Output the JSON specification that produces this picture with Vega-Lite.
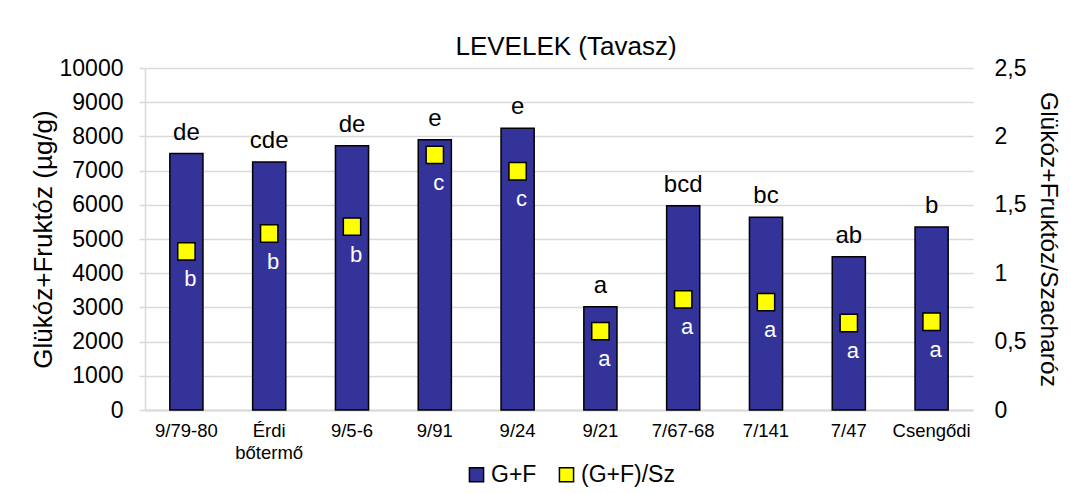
{
  "$schema": "https://vega.github.io/schema/vega-lite/v6.json",
  "autosize": {"type": "none"},
  "width": 828,
  "height": 342,
  "padding": {"left": 145, "top": 68, "right": 97, "bottom": 84},
  "background": "white",
  "title": {
    "text": "LEVELEK (Tavasz)",
    "font": "Liberation Sans",
    "fontSize": 26,
    "fontWeight": "normal",
    "color": "black",
    "anchor": "middle",
    "offset": -3,
    "dx": 7
  },
  "config": {
    "font": "Liberation Sans",
    "view": {"stroke": null}
  },
  "data": {
    "values": [
      {"cat": "9/79-80", "gf": 7500, "ratio": 1.16, "l1": "de", "l2": "b"},
      {"cat": "Érdi bőtermő", "gf": 7250, "ratio": 1.29, "l1": "cde", "l2": "b"},
      {"cat": "9/5-6", "gf": 7730, "ratio": 1.34, "l1": "de", "l2": "b"},
      {"cat": "9/91", "gf": 7900, "ratio": 1.865, "l1": "e", "l2": "c"},
      {"cat": "9/24", "gf": 8235, "ratio": 1.745, "l1": "e", "l2": "c"},
      {"cat": "9/21", "gf": 3020, "ratio": 0.576, "l1": "a", "l2": "a"},
      {"cat": "7/67-68", "gf": 5975, "ratio": 0.809, "l1": "bcd", "l2": "a"},
      {"cat": "7/141", "gf": 5635, "ratio": 0.788, "l1": "bc", "l2": "a"},
      {"cat": "7/47", "gf": 4483, "ratio": 0.636, "l1": "ab", "l2": "a"},
      {"cat": "Csengődi", "gf": 5350, "ratio": 0.645, "l1": "b", "l2": "a"}
    ]
  },
  "encoding": {
    "x": {
      "field": "cat",
      "type": "nominal",
      "sort": null,
      "scale": {"paddingInner": 0.6, "paddingOuter": 0.3},
      "axis": {
        "title": null,
        "labelAngle": 0,
        "labelFontSize": 18.5,
        "labelColor": "black",
        "labelPadding": 11,
        "labelLineHeight": 22,
        "labelExpr": "split(datum.value, ' ')",
        "ticks": false,
        "domainColor": "#d9d9d9",
        "domainWidth": 2
      }
    }
  },
  "layer": [
    {
      "encoding": {
        "y": {
          "field": "gf",
          "type": "quantitative",
          "scale": {"domain": [0, 10000]},
          "axis": {
            "title": "Glükóz+Fruktóz (µg/g)",
            "titleFontSize": 26,
            "titleFontWeight": "normal",
            "titleColor": "black",
            "titlePadding": 3,
            "values": [0, 1000, 2000, 3000, 4000, 5000, 6000, 7000, 8000, 9000, 10000],
            "format": "d",
            "labelFontSize": 23,
            "labelColor": "black",
            "labelPadding": 16,
            "tickSize": 6,
            "tickColor": "#d9d9d9",
            "tickWidth": 1.5,
            "domainColor": "#d9d9d9",
            "domainWidth": 1.5,
            "grid": true,
            "gridColor": "#d9d9d9",
            "gridWidth": 1.5
          }
        }
      },
      "layer": [
        {
          "mark": {"type": "bar", "stroke": "black", "strokeWidth": 1.5},
          "encoding": {
            "color": {
              "datum": "G+F",
              "type": "nominal",
              "scale": {"domain": ["G+F", "(G+F)/Sz"], "range": ["#333399", "#FFFF00"]},
              "legend": {
                "title": null,
                "orient": "none",
                "direction": "horizontal",
                "legendX": 320,
                "legendY": 395,
                "padding": 0,
                "symbolType": "square",
                "symbolSize": 200,
                "symbolStrokeColor": "black",
                "symbolStrokeWidth": 1.5,
                "symbolOpacity": 1,
                "labelFontSize": 23,
                "labelColor": "black",
                "labelOffset": 3,
                "columnPadding": 18,
                "encode": {
                  "symbols": {"update": {"stroke": {"value": "black"}, "strokeWidth": {"value": 1.5}}}
                }
              }
            }
          }
        },
        {
          "mark": {"type": "text", "fontSize": 24, "color": "black", "baseline": "middle", "dy": -21},
          "encoding": {"text": {"field": "l1"}}
        }
      ]
    },
    {
      "encoding": {
        "y": {
          "field": "ratio",
          "type": "quantitative",
          "scale": {"domain": [0, 2.5]},
          "axis": {
            "orient": "right",
            "title": "Glükóz+Fruktóz/Szacharóz",
            "titleFontSize": 24.5,
            "titleFontWeight": "normal",
            "titleColor": "black",
            "titlePadding": 10,
            "values": [0, 0.5, 1, 1.5, 2, 2.5],
            "labelExpr": "replace(toString(datum.value), '.', ',')",
            "labelFontSize": 23,
            "labelColor": "black",
            "labelPadding": 21,
            "ticks": false,
            "domain": false,
            "grid": false
          }
        }
      },
      "layer": [
        {
          "mark": {"type": "point", "shape": "square", "filled": true, "size": 300, "stroke": "black", "strokeWidth": 1.5, "opacity": 1},
          "encoding": {
            "color": {"datum": "(G+F)/Sz", "type": "nominal"}
          }
        },
        {
          "mark": {"type": "text", "fontSize": 22, "color": "white", "baseline": "middle", "dy": 28, "dx": 4},
          "encoding": {"text": {"field": "l2"}}
        }
      ]
    }
  ],
  "resolve": {"scale": {"y": "independent"}}
}
